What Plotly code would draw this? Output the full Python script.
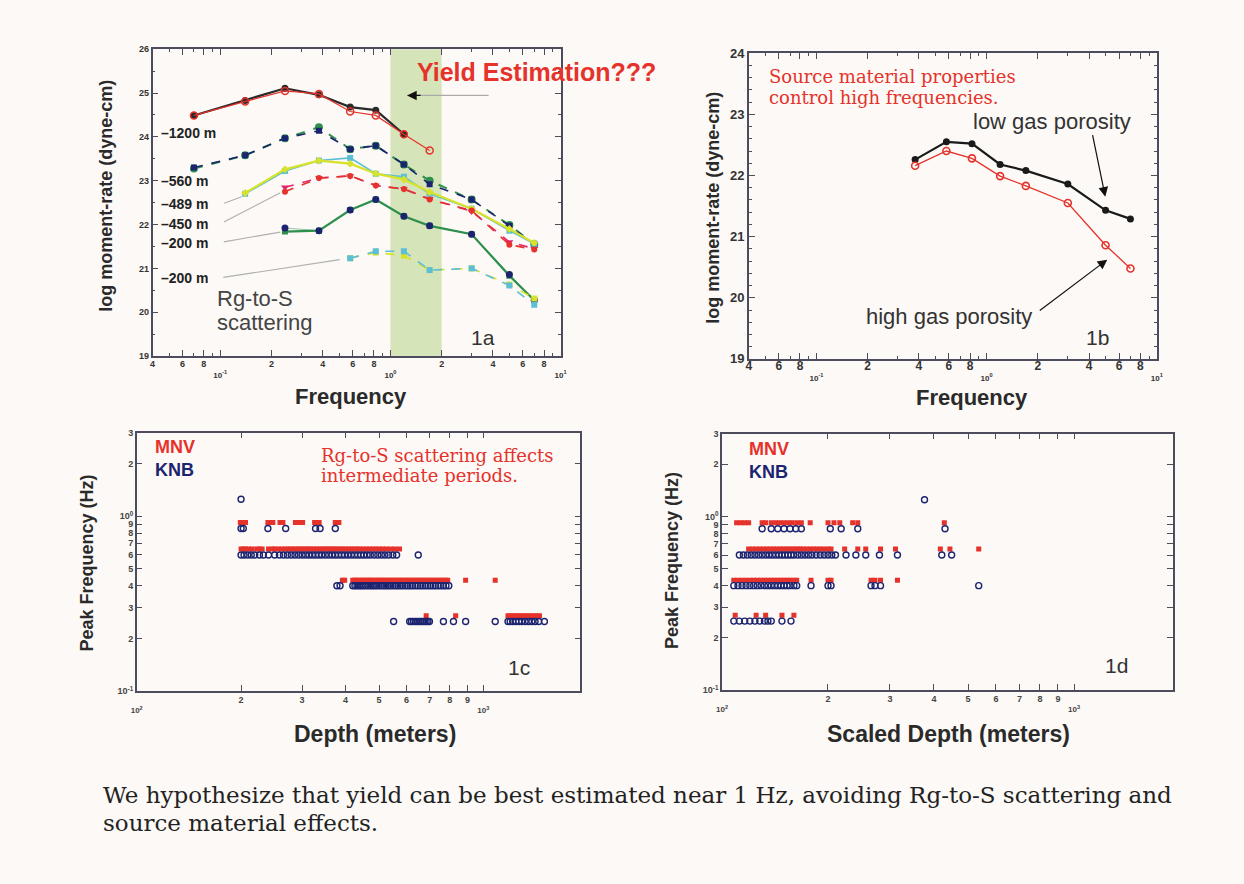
import math
import plotly.graph_objects as go

W, H = 1244, 884

# ---------------- data ----------------
freq = [0.07, 0.14, 0.24, 0.38, 0.58, 0.82, 1.2, 1.7, 3.0, 5.0, 7.0]

# Fig 1a  (log moment-rate, dyne-cm)
m1200_black = [24.49, 24.83, 25.11, 24.96, 24.68, 24.61, 24.06]
m1200_red = [24.49, 24.81, 25.05, 24.98, 24.58, 24.49, 24.06, 23.69]
m560_green = [23.28, 23.58, 23.97, 24.22, 23.72, 23.80, 23.37, 23.00, 22.57, 21.99, 21.55]
m560_navy = [23.30, 23.58, 23.97, 24.14, 23.72, 23.80, 23.37, 22.92, 22.57, 21.97, 21.54]
m489_yellow = [22.72, 23.26, 23.46, 23.39, 23.16, 23.03, 22.74, 22.36, 21.90, 21.58]
m489_cyan = [22.70, 23.22, 23.46, 23.52, 23.16, 23.09, 22.70, 22.36, 21.86, 21.56]
m450_red = [22.75, 23.06, 23.11, 22.89, 22.81, 22.57, 22.32, 21.54, 21.43]
m450_magenta = [22.85, 23.06, 23.11, 22.89, 22.81, 22.59, 22.30, 21.60, 21.45]
m200a_green = [21.84, 21.86, 22.33, 22.57, 22.19, 21.97, 21.78, 20.83, 20.27]
m200a_navy = [21.92, 21.86, 22.33, 22.57, 22.19, 21.97, 21.78, 20.86, 20.27]
m200b_cyan = [21.23, 21.39, 21.39, 20.96, 21.00, 20.61, 20.17]
m200b_yellow = [21.23, 21.36, 21.29, 20.96, 21.00, 20.63, 20.31]

# Fig 1b
freq_b = freq[3:]
low_gas = [22.26, 22.55, 22.52, 22.18, 22.08, 21.86, 21.43, 21.29]
high_gas = [22.16, 22.40, 22.28, 21.99, 21.83, 21.55, 20.86, 20.48]

# Fig 1c  peak frequency (Hz) -> depths (m)
mnv_c = {
    0.92: [199, 203, 206, 239, 243, 247, 259, 264, 287, 292, 297, 301, 326, 331, 336, 374, 378, 383],
    0.65: [200, 203, 206, 210, 215, 222, 226, 230, 240, 246, 250, 256, 262, 268, 273, 278, 283, 288,
           293, 298, 303, 308, 313, 318, 324, 330, 336, 342, 348, 354, 360, 366, 372, 378, 385, 392,
           400, 408, 416, 424, 432, 440, 450, 460, 470, 480, 490, 500, 512, 525, 540, 555, 573],
    0.43: [392, 398, 420, 425, 430, 436, 442, 448, 454, 460, 466, 472, 478, 485, 492, 499, 506, 513,
           520, 528, 536, 544, 552, 560, 568, 576, 585, 594, 603, 612, 622, 632, 642, 652, 662, 672,
           683, 694, 705, 716, 728, 740, 752, 765, 777, 789, 889, 1082],
    0.27: [684, 832, 1178, 1200, 1225, 1250, 1275, 1300, 1330, 1360, 1390, 1420, 1452],
}
knb_c = {
    1.25: [200],
    0.85: [200, 203, 239, 269, 328, 338, 374],
    0.60: [200, 204, 209, 214, 219, 226, 232, 240, 250, 258, 265, 272, 279, 286, 293, 300, 307, 314,
           321, 328, 335, 342, 350, 358, 366, 374, 382, 390, 398, 407, 416, 425, 434, 443, 452, 462,
           472, 484, 496, 508, 520, 533, 548, 562, 649],
    0.40: [378, 386, 420, 426, 432, 438, 444, 450, 457, 464, 471, 478, 485, 492, 500, 508, 516, 524,
           532, 540, 549, 558, 567, 576, 585, 595, 605, 615, 625, 636, 647, 658, 669, 680, 692, 704,
           716, 728, 741, 754, 767, 780, 795],
    0.25: [551, 613, 620, 628, 636, 644, 652, 660, 668, 676, 684, 692, 699, 767, 820, 889, 1082,
           1178, 1195, 1215, 1240, 1265, 1290, 1320, 1350, 1380, 1410, 1445, 1500],
}

# Fig 1d  peak frequency (Hz) -> scaled depths (m)
mnv_d = {
    0.92: [110, 113, 116, 119, 130, 133, 138, 142, 146, 150, 154, 158, 163, 168, 178, 200, 208, 216,
           235, 243, 428],
    0.65: [119, 122, 125, 128, 131, 134, 137, 140, 143, 146, 149, 152, 155, 158, 161, 164, 167, 170,
           174, 178, 182, 186, 190, 195, 200, 204, 223, 243, 256, 282, 311, 417, 444, 536],
    0.43: [108, 111, 114, 117, 120, 123, 126, 129, 132, 135, 138, 141, 144, 147, 150, 153, 156, 160,
           163, 179, 200, 204, 265, 272, 282, 315],
    0.27: [109, 125, 133, 148, 160],
}
knb_d = {
    1.25: [376],
    0.85: [130, 138, 144, 150, 156, 162, 168, 203, 218, 243, 430],
    0.60: [112, 115, 118, 121, 124, 127, 130, 133, 136, 139, 142, 145, 148, 151, 154, 157, 160, 164,
           168, 172, 176, 180, 185, 190, 195, 200, 205, 210, 225, 240, 256, 280, 315, 421, 449],
    0.40: [108, 111, 114, 117, 120, 123, 126, 129, 132, 135, 138, 141, 144, 147, 150, 153, 156, 160,
           163, 179, 200, 204, 265, 272, 282, 536],
    0.25: [108, 112, 116, 120, 124, 128, 132, 135, 138, 148, 157],
}

freq_ticks = [0.04, 0.06, 0.08, 0.1, 0.2, 0.4, 0.6, 0.8, 1, 2, 4, 6, 8, 10]
freq_digits = ["4", "6", "8", None, "2", "4", "6", "8", None, "2", "4", "6", "8", None]
freq_decades = ["10<sup>-1</sup>", "10<sup>0</sup>", "10<sup>1</sup>"]
freq_minor = [0.05, 0.07, 0.09, 0.3, 0.5, 0.7, 0.9, 3, 5, 7, 9]
depth_ticks = [100, 200, 300, 400, 500, 600, 700, 800, 900, 1000]
depth_digits = [None, "2", "3", "4", "5", "6", "7", "8", "9", None]
depth_decades = ["10<sup>2</sup>", "10<sup>3</sup>"]
pf_ticks = [0.1, 0.2, 0.3, 0.4, 0.5, 0.6, 0.7, 0.8, 0.9, 1, 2, 3]
pf_ticktext = ["10<sup>-1</sup>", "2", "3", "4", "5", "6", "7", "8", "9", "10<sup>0</sup>", "2", "3"]


def mixed_ticktext(digits, decades, digit_px):
    """digits drawn at digit_px size right under the axis, decade labels one small line lower"""
    out, k = [], 0
    for d in digits:
        if d is None:
            out.append("<br>" + decades[k])
            k += 1
        else:
            out.append('<span style="font-size:%dpx">%s</span>' % (digit_px, d))
    return out


# ---------------- styling helpers ----------------
BG = "#fcf9f6"
AX = "#4c4c5c"
SANS = "Liberation Sans, Arial, sans-serif"
SERIF = "DejaVu Serif, serif"
RED = "#e5322b"
NAVY = "#1c2470"
GREEN = "#2f8f4e"
YELLOW = "#d9e22a"
CYAN = "#5cbfd6"
MAGENTA = "#e3266e"


def dx(a, b):
    return [a / W, b / W]


def dy(top, bottom):
    return [1 - bottom / H, 1 - top / H]


def px(x):
    return x / W


def py(y):
    return 1 - y / H


fig = go.Figure()


def line(x, y, color, dash="solid", symbol="circle", msize=7, mcolor=None, width=2,
         xa="x", ya="y", mline=None):
    fig.add_trace(go.Scatter(
        x=x, y=y, mode="lines+markers", xaxis=xa, yaxis=ya,
        line=dict(color=color, width=width, dash=dash),
        marker=dict(symbol=symbol, size=msize, color=mcolor or color,
                    line=mline or dict(width=0)),
        hoverinfo="skip"))


# 1a traces
line(freq[:7], m1200_black, "#2a2a2a", width=2.2, msize=7)
line(freq[:8], m1200_red, RED, width=1.2, symbol="circle-open", msize=7,
     mline=dict(width=1.5, color=RED))
line(freq, m560_green, GREEN, dash="dash", msize=8)
line(freq, m560_navy, NAVY, dash="dash", symbol="square", msize=6, width=1.6)
line(freq[1:], m489_cyan, CYAN, width=1.6, symbol="square", msize=6)
line(freq[1:], m489_yellow, YELLOW, width=2.2, symbol="diamond", msize=6)
line(freq[2:], m450_magenta, MAGENTA, dash="dash", symbol="triangle-down", msize=7, width=1.6)
line(freq[2:], m450_red, RED, dash="dash", symbol="circle", msize=6, width=1.6)
line(freq[2:], m200a_green, GREEN, width=2.2, symbol="square", msize=6)
line(freq[2:], m200a_navy, GREEN, width=0.5, symbol="circle", msize=7, mcolor=NAVY)
line(freq[4:], m200b_yellow, YELLOW, dash="dash", symbol="square", msize=6, width=1.6)
line(freq[4:], m200b_cyan, CYAN, dash="dash", symbol="square", msize=6, width=1.6)

# 1b traces
line(freq_b, low_gas, "#1a1a1a", width=2.2, msize=7, xa="x2", ya="y2")
line(freq_b, high_gas, RED, width=1.3, symbol="circle-open", msize=7,
     mline=dict(width=1.6, color=RED), xa="x2", ya="y2")


def rows(d):
    xs, ys = [], []
    for f, depths in d.items():
        xs += depths
        ys += [f] * len(depths)
    return xs, ys


for xa, ya, mnv, knb in (("x3", "y3", mnv_c, knb_c), ("x4", "y4", mnv_d, knb_d)):
    x, y = rows(mnv)
    fig.add_trace(go.Scatter(x=x, y=y, mode="markers", xaxis=xa, yaxis=ya,
                             marker=dict(symbol="square", size=5, color=RED, line=dict(width=0)),
                             hoverinfo="skip"))
    x, y = rows(knb)
    fig.add_trace(go.Scatter(x=x, y=y, mode="markers", xaxis=xa, yaxis=ya,
                             marker=dict(symbol="circle-open", size=6, color=NAVY,
                                         line=dict(width=1.4, color=NAVY)),
                             hoverinfo="skip"))

# ---------------- axes ----------------
common = dict(showgrid=False, zeroline=False, showline=True, linecolor=AX, linewidth=1.5,
              mirror="ticks", ticks="inside", tickcolor=AX, ticklen=6, tickwidth=1.2)


def freq_axis(digit_px, base_px):
    return dict(type="log", range=[math.log10(0.04), 1], tickmode="array",
                tickvals=freq_ticks, ticktext=mixed_ticktext(freq_digits, freq_decades, digit_px),
                tickfont=dict(family=SANS, size=base_px, color="#333", weight="bold"),
                minor=dict(tickmode="array", tickvals=freq_minor, ticks="inside",
                           ticklen=3, tickcolor=AX))


fig.update_layout(
    xaxis=dict(**common, **freq_axis(9, 8), domain=dx(148, 560), anchor="y"),
    yaxis=dict(**common, range=[19, 26], dtick=1, domain=dy(43, 355), anchor="x",
               tickfont=dict(family=SANS, size=9, color="#333", weight="bold"),
               minor=dict(dtick=0.5, ticks="inside", ticklen=3, tickcolor=AX)),
    xaxis2=dict(**common, **freq_axis(12, 8), domain=dx(750, 1162), anchor="y2"),
    yaxis2=dict(**common, range=[19, 24], dtick=1, domain=dy(47, 358), anchor="x2",
                tickfont=dict(family=SANS, size=13, color="#333", weight="bold"),
                minor=dict(dtick=0.2, ticks="inside", ticklen=3, tickcolor=AX)),
    xaxis3=dict(**common, type="log", range=[2, 3.28], tickmode="array", tickvals=depth_ticks,
                ticktext=mixed_ticktext(depth_digits, depth_decades, 9), domain=dx(132, 580),
                anchor="y3", tickfont=dict(family=SANS, size=8, color="#444", weight="bold")),
    yaxis3=dict(**common, type="log", range=[-1, math.log10(3)], tickmode="array",
                tickvals=pf_ticks, ticktext=pf_ticktext, domain=dy(433, 696), anchor="x3",
                tickfont=dict(family=SANS, size=9, color="#444", weight="bold")),
    xaxis4=dict(**common, type="log", range=[2, 3.28], tickmode="array", tickvals=depth_ticks,
                ticktext=mixed_ticktext(depth_digits, depth_decades, 9), domain=dx(723, 1178),
                anchor="y4", tickfont=dict(family=SANS, size=8, color="#444", weight="bold")),
    yaxis4=dict(**common, type="log", range=[-1, math.log10(3)], tickmode="array",
                tickvals=pf_ticks, ticktext=pf_ticktext, domain=dy(434, 695), anchor="x4",
                tickfont=dict(family=SANS, size=9, color="#444", weight="bold")),
)

# yield-estimation band (1-2 Hz)
fig.add_shape(type="rect", xref="x", yref="y domain", x0=1.0, x1=2.0, y0=0, y1=1,
              fillcolor="rgb(214,228,186)", line=dict(width=0), layer="below")

# ---------------- annotations ----------------
ann = []


def text(x, y, s, size, color="#333", family=SANS, bold=False, xanchor="left", angle=0,
         align="left"):
    ann.append(dict(x=px(x), y=py(y), xref="paper", yref="paper", text=s, showarrow=False,
                    xanchor=xanchor, yanchor="middle", textangle=angle, align=align,
                    font=dict(size=size, color=color, family=family,
                              weight="bold" if bold else "normal")))


def arrow(hx, hy, tx, ty, color, head=0, width=1.0, size=1.0):
    ann.append(dict(x=px(hx), y=py(hy), xref="paper", yref="paper", text="", showarrow=True,
                    ax=tx - hx, ay=ty - hy, axref="pixel", ayref="pixel",
                    arrowhead=head, arrowcolor=color, arrowwidth=width, arrowsize=size))


def legend(x, ytop):
    text(x, ytop + 10, '<span style="color:%s">MNV</span><br><span style="color:%s">KNB</span>'
         % (RED, NAVY), 18, RED, bold=True)


# 1a
text(413, 66, "Yield Estimation???", 25, RED, bold=True)
arrow(405, 90, 488, 90, "#aaaaaa", 0, 1.2)
arrow(405, 90, 420, 90, "#111111", 2, 1.2, 1.6)
for yy, s in ((128, "–1200 m"), (177, "–560 m"), (200, "–489 m"), (221, "–450 m"),
              (240, "–200 m"), (276, "–200 m")):
    text(154, yy, s, 14, "#222", bold=True)
arrow(238, 193, 219, 200, "#b0b0b0", 0, 1.1)
arrow(277, 189, 219, 219, "#b0b0b0", 0, 1.1)
arrow(277, 229, 219, 239, "#b0b0b0", 0, 1.1)
arrow(337, 257, 219, 275, "#b0b0b0", 0, 1.1)
text(211, 297, "Rg-to-S", 22, "#444")
text(211, 321, "scattering", 22, "#444")
text(468, 336, "1a", 21, "#333")
text(348, 396, "Frequency", 22, "#2a2a2a", bold=True, xanchor="center")
text(101, 192, "log moment-rate (dyne-cm)", 18, "#2a2a2a", bold=True, xanchor="center", angle=-90)

# 1b
text(768, 71, "Source material properties", 18, RED, family=SERIF)
text(768, 92, "control high frequencies.", 18, RED, family=SERIF)
text(974, 116, "low gas porosity", 22, "#333")
arrow(1110, 193, 1097, 130, "#111111", 2, 1.2, 1.6)
text(866, 315, "high gas porosity", 22, "#333")
arrow(1112, 257, 1043, 309, "#111111", 2, 1.2, 1.6)
text(1088, 336, "1b", 21, "#333")
text(975, 397, "Frequency", 22, "#2a2a2a", bold=True, xanchor="center")
text(713, 204, "log moment-rate (dyne-cm)", 18, "#2a2a2a", bold=True, xanchor="center", angle=-90)

# 1c
legend(148, 449)
text(316, 456, "Rg-to-S scattering affects", 18, RED, family=SERIF)
text(316, 477, "intermediate periods.", 18, RED, family=SERIF)
text(505, 672, "1c", 21, "#333")
text(373, 740, "Depth (meters)", 23, "#2a2a2a", bold=True, xanchor="center")
text(82, 566, "Peak Frequency (Hz)", 18, "#2a2a2a", bold=True, xanchor="center", angle=-90)

# 1d
legend(748, 451)
text(1108, 670, "1d", 21, "#333")
text(952, 740, "Scaled Depth (meters)", 23, "#2a2a2a", bold=True, xanchor="center")
text(673, 563, "Peak Frequency (Hz)", 18, "#2a2a2a", bold=True, xanchor="center", angle=-90)

# caption
text(96, 802, "We hypothesize that yield can be best estimated near 1 Hz, avoiding Rg-to-S "
              "scattering and", 23, "#222", family=SERIF)
text(96, 830, "source material effects.", 23, "#222", family=SERIF)

fig.update_layout(
    annotations=ann,
    width=W, height=H, autosize=False,
    margin=dict(l=0, r=0, t=0, b=0),
    paper_bgcolor=BG, plot_bgcolor=BG,
    showlegend=False, hovermode=False,
)

fig.write_html("out.html", config={"responsive": False, "displayModeBar": False},
               post_script="document.body.style.margin='0';document.body.style.overflow='hidden';")
